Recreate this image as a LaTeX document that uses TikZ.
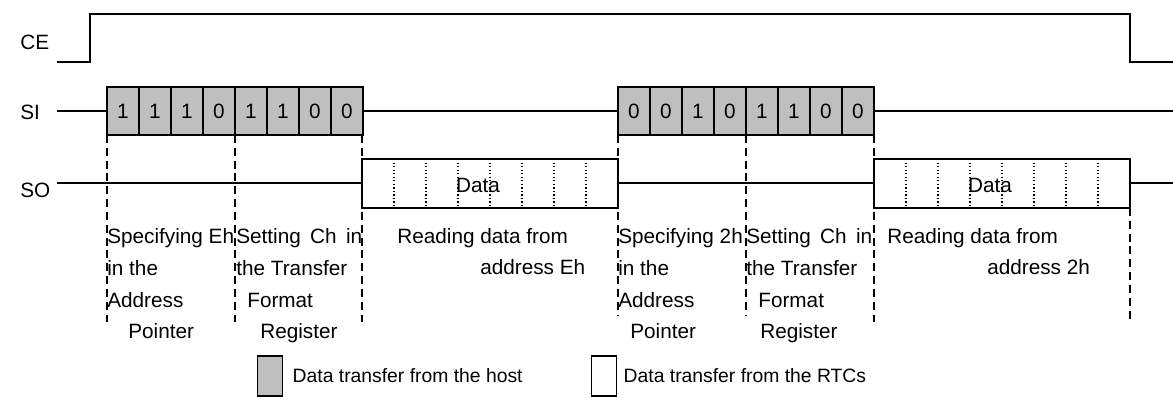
\documentclass[tikz,border=0pt]{standalone}
\usepackage{fontspec}
\setmainfont{Liberation Sans}
\usetikzlibrary{positioning}

\begin{document}
\begin{tikzpicture}[x=0.02cm, y=-0.02cm,
	font=\fontsize{11.8}{18.2}\selectfont,
	sig/.style={line width=1.1pt},
	hostbit/.style={draw, line width=1pt, fill=black!25, inner sep=0pt,
		minimum width=0.64cm, minimum height=0.96cm},
	rtcbox/.style={draw, line width=1pt, fill=white, inner sep=0pt,
		minimum width=5.12cm, minimum height=0.98cm},
	guide/.style={line width=1pt, dash pattern=on 4.5pt off 2.8pt},
	tick/.style={line width=0.6pt, dash pattern=on 0.8pt off 1.2pt},
	note/.style={anchor=base west, inner sep=0pt, align=left},
	label/.style={anchor=west, inner sep=0pt},
	key/.style={draw, line width=1pt, inner sep=0pt, minimum width=0.5cm, minimum height=0.8cm},
	keytext/.style={inner sep=0pt, font=\fontsize{11}{13}\selectfont}
]
	\useasboundingbox (0,0) rectangle (1173,418);

	%signal names
	\node [label] (ce) at (20,42) {CE};
	\node [label] (si) at (20,112) {SI};
	\node [label] (so) at (20,190) {SO};

	%CE
	\draw [sig] (57,62) -- (90,62) -- (90,14) -- (1130,14) -- (1130,62) -- (1173,62);

	%guides
	\foreach \x/\t/\b in {
		107/135/325,
		235/135/325,
		362/135/327,
		618/135/315,
		746/135/315,
		874/135/326,
		1130/208/322
	}\draw [guide] (\x,\t) -- (\x,\b);

	%SI
	\draw [sig] (57,111) -- (107,111);
	\draw [sig] (363,111) -- (618,111);
	\draw [sig] (874,111) -- (1173,111);
	\foreach \b [count=\i from 0] in {1,1,1,0,1,1,0,0}
		\node [hostbit] (wa\i) at (123+32*\i,111) {\b};
	\foreach \b [count=\i from 0] in {0,0,1,0,1,1,0,0}
		\node [hostbit] (wb\i) at (634+32*\i,111) {\b};

	%SO
	\draw [sig] (57,183) -- (362,183);
	\draw [sig] (618,183) -- (874,183);
	\draw [sig] (1130,183) -- (1173,183);
	\node [rtcbox] (ra) at (490,183.5) {};
	\node [rtcbox] (rb) at (1002,183.5) {};
	\foreach \k in {1,...,7}{
		\draw [tick] (362+32*\k,159) -- (362+32*\k,208);
		\draw [tick] (874+32*\k,159) -- (874+32*\k,208);
	}
	\node (da) at (478,185) {Data};
	\node (db) at (990,185) {Data};

	%notes (base = last line)
	\node [note] (na) at (107,339) {Specifying Eh\\in the\\Address\\\hspace{0.42cm}Pointer};
	\node [note] (nb) at (236,339) {Setting\hspace{0.45em}Ch\hspace{0.45em}in\\the Transfer\\\hspace{0.22cm}Format\\\hspace{0.48cm}Register};
	\node [note] (nc) at (397,275) {Reading data from\\\hspace{1.66cm}address Eh};
	\node [note] (nd) at (618,339) {Specifying 2h\\in the\\Address\\\hspace{0.24cm}Pointer};
	\node [note] (ne) at (746,339) {Setting\hspace{0.45em}Ch\hspace{0.45em}in\\the Transfer\\\hspace{0.24cm}Format\\\hspace{0.28cm}Register};
	\node [note] (nf) at (887,275) {Reading data from\\\hspace{2cm}address 2h};

	%legend
	\node [key, fill=black!25] (keyhost) at (270,376) {};
	\node [keytext, right=0.18cm of keyhost] (txthost) {Data transfer from the host};
	\node [key, fill=white] (keyrtc) at (604,376) {};
	\node [keytext, right=0.12cm of keyrtc] (txtrtc) {Data transfer from the RTCs};

\end{tikzpicture}
\end{document}
